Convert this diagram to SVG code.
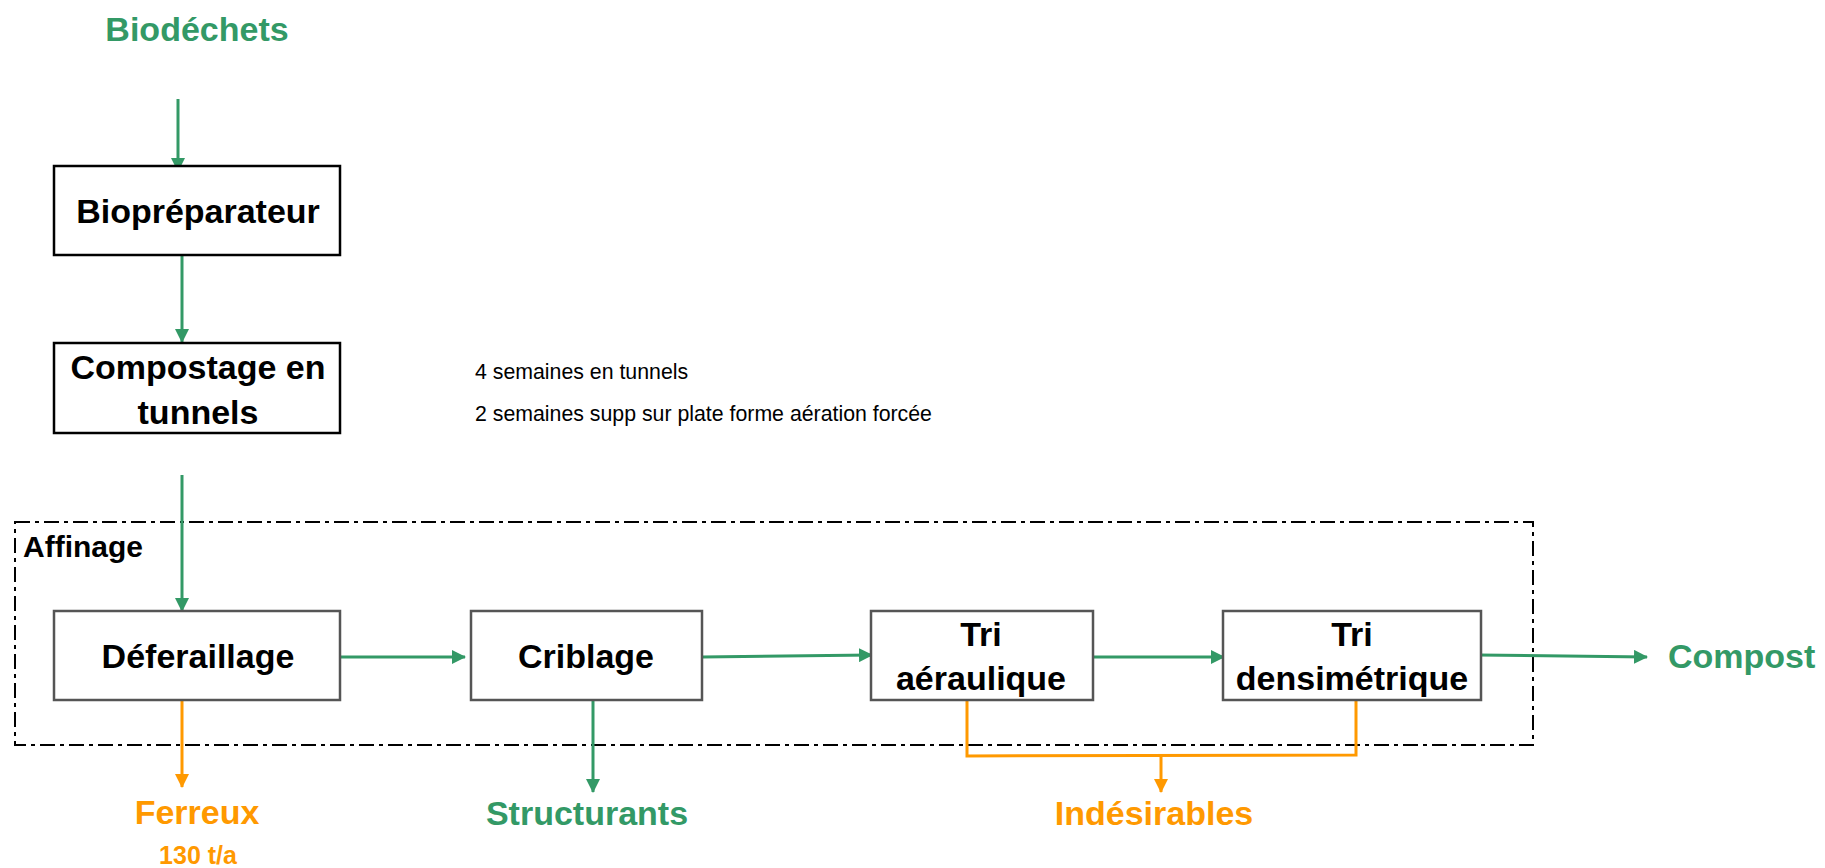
<svg xmlns="http://www.w3.org/2000/svg" width="1825" height="868" viewBox="0 0 1825 868">
<defs>
<marker id="ag" markerUnits="userSpaceOnUse" markerWidth="14" markerHeight="14" refX="13" refY="7" orient="auto"><path d="M0,0 L14,7 L0,14 z" fill="#339966"/></marker>
<marker id="ao" markerUnits="userSpaceOnUse" markerWidth="14" markerHeight="14" refX="13" refY="7" orient="auto"><path d="M0,0 L14,7 L0,14 z" fill="#FF9900"/></marker>
</defs>
<style>
text{font-family:"Liberation Sans",Arial,sans-serif;}
.b{font-weight:bold;font-size:34px;text-anchor:middle;fill:#000;}
.g{font-weight:bold;font-size:34px;text-anchor:middle;fill:#339966;}
.o{font-weight:bold;font-size:34px;text-anchor:middle;fill:#FF9900;}
.note{font-size:21.3px;fill:#000;}
.box1{fill:#fff;stroke:#000;stroke-width:2.5;}
.box2{fill:#fff;stroke:#555;stroke-width:2.5;}
.cg{fill:none;stroke:#339966;stroke-width:3;}
.co{fill:none;stroke:#FF9900;stroke-width:3;}
</style>
<rect id="affinage-frame" x="15" y="522" width="1518" height="223" fill="none" stroke="#000" stroke-width="2" stroke-dasharray="15 5 4 5"/>
<text x="23" y="557" style="font-weight:bold;font-size:30px;fill:#000;font-family:'Liberation Sans',Arial,sans-serif">Affinage</text>
<g id="connectors">
<line class="cg" x1="178" y1="99" x2="178" y2="171" marker-end="url(#ag)"/>
<line class="cg" x1="182" y1="255" x2="182" y2="342" marker-end="url(#ag)"/>
<line class="cg" x1="182" y1="475" x2="182" y2="611" marker-end="url(#ag)"/>
<line class="cg" x1="340" y1="657" x2="465" y2="657" marker-end="url(#ag)"/>
<line class="cg" x1="702" y1="657" x2="872" y2="655" marker-end="url(#ag)"/>
<line class="cg" x1="1093" y1="657" x2="1224" y2="657" marker-end="url(#ag)"/>
<line class="cg" x1="1478" y1="655" x2="1647" y2="657" marker-end="url(#ag)"/>
<line class="cg" x1="593" y1="700" x2="593" y2="792" marker-end="url(#ag)"/>
<line class="co" x1="182" y1="700" x2="182" y2="787" marker-end="url(#ao)"/>
<polyline class="co" points="967,700 967,756 1356,755 1356,700"/>
<line class="co" x1="1161" y1="756" x2="1161" y2="792" marker-end="url(#ao)"/>
</g>
<g id="biodechets"><text class="g" x="197" y="41">Biodéchets</text></g>
<g id="biopreparateur"><rect class="box1" x="54" y="166" width="286" height="89"/><text class="b" x="198" y="223">Biopréparateur</text></g>
<g id="compostage"><rect class="box1" x="54" y="343" width="286" height="90"/><text class="b" x="198" y="379">Compostage en</text><text class="b" x="198" y="424">tunnels</text></g>
<g id="notes"><text class="note" x="475" y="379">4 semaines en tunnels</text><text class="note" x="475" y="421">2 semaines supp sur plate forme aération forcée</text></g>
<g id="deferaillage"><rect class="box2" x="54" y="611" width="286" height="89"/><text class="b" x="198" y="668">Déferaillage</text></g>
<g id="criblage"><rect class="box2" x="471" y="611" width="231" height="89"/><text class="b" x="586" y="668">Criblage</text></g>
<g id="tri-aeraulique"><rect class="box2" x="871" y="611" width="222" height="89"/><text class="b" x="981" y="646">Tri</text><text class="b" x="981" y="690">aéraulique</text></g>
<g id="tri-densimetrique"><rect class="box2" x="1223" y="611" width="258" height="89"/><text class="b" x="1352" y="646">Tri</text><text class="b" x="1352" y="690">densimétrique</text></g>
<g id="compost"><text class="g" x="1668" y="668" style="text-anchor:start">Compost</text></g>
<g id="ferreux"><text class="o" x="197" y="824">Ferreux</text><text class="o" x="198" y="864" style="font-size:25px">130 t/a</text></g>
<g id="structurants"><text class="g" x="587" y="825">Structurants</text></g>
<g id="indesirables"><text class="o" x="1154" y="825">Indésirables</text></g>
</svg>
